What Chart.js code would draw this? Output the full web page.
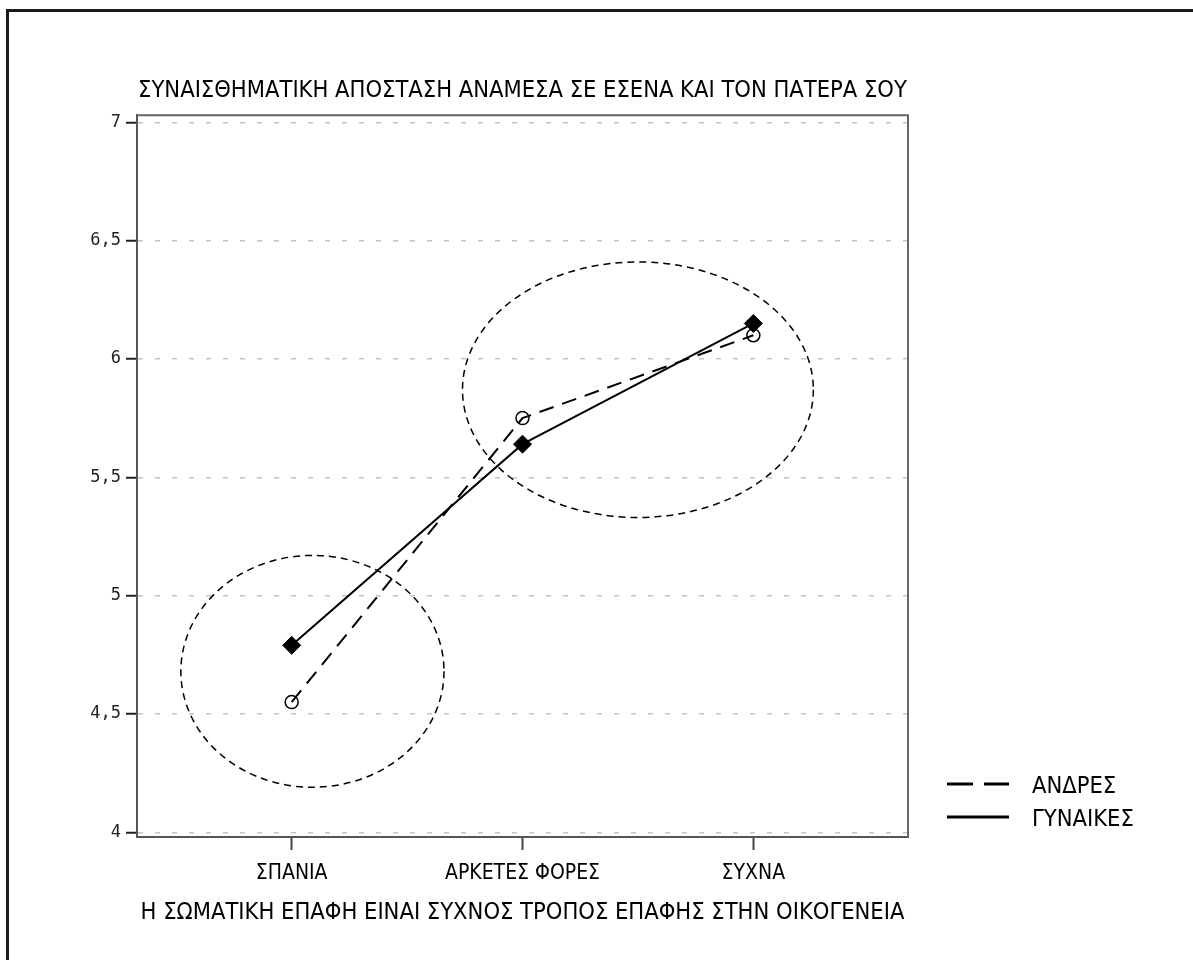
<!DOCTYPE html>
<html>
<head>
<meta charset="utf-8">
<title>ΣΥΝΑΙΣΘΗΜΑΤΙΚΗ ΑΠΟΣΤΑΣΗ</title>
<script src="https://cdn.jsdelivr.net/npm/chart.js@4"></script>
<style>
  html, body { margin: 0; padding: 0; background: #fff; overflow: hidden; }
  .page { position: relative; width: 1193px; height: 960px; }
  .page__frame {
    position: absolute; left: 6px; top: 9px; width: 1300px; height: 1100px;
    border-left: 3px solid #1a1a1a; border-top: 3px solid #1a1a1a;
  }
  #myChart { position: absolute; left: 0; top: 0; }
</style>
</head>
<body>
<div class="page">
  <div class="page__frame"></div>
  <canvas id="myChart" width="1193" height="960"></canvas>
</div>
<script>
const categories = ['ΣΠΑΝΙΑ', 'ΑΡΚΕΤΕΣ ΦΟΡΕΣ', 'ΣΥΧΝΑ'];
const seriesNames = ['ΑΝΔΡΕΣ', 'ΓΥΝΑΙΚΕΣ'];
const andres = [4.55, 5.75, 6.10];
const gynaikes = [4.79, 5.64, 6.15];
const yTicks = [4, 4.5, 5, 5.5, 6, 6.5, 7];

const titleText = 'ΣΥΝΑΙΣΘΗΜΑΤΙΚΗ ΑΠΟΣΤΑΣΗ ΑΝΑΜΕΣΑ ΣΕ ΕΣΕΝΑ ΚΑΙ ΤΟΝ ΠΑΤΕΡΑ ΣΟΥ';
const xTitleText = 'Η ΣΩΜΑΤΙΚΗ ΕΠΑΦΗ ΕΙΝΑΙ ΣΥΧΝΟΣ ΤΡΟΠΟΣ ΕΠΑΦΗΣ ΣΤΗΝ ΟΙΚΟΓΕΝΕΙΑ';

// dashed rings round the groups, in axis units (centre + radii)
const rings = [
  { x: 0.09, y: 4.68, rx: 0.57, ry: 0.49 },
  { x: 1.50, y: 5.87, rx: 0.76, ry: 0.54 },
];

const sans = "'DejaVu Sans Condensed', 'DejaVu Sans', sans-serif";

const plotFrame = {
  id: 'plotFrame',
  beforeDatasetsDraw(chart) {
    const { ctx, chartArea } = chart;
    ctx.save();
    ctx.strokeStyle = '#666';
    ctx.lineWidth = 2;
    ctx.beginPath();
    ctx.moveTo(chartArea.left, chartArea.top);
    ctx.lineTo(chartArea.right, chartArea.top);
    ctx.lineTo(chartArea.right, chartArea.bottom);
    ctx.stroke();
    ctx.restore();
  },
};

const ringLines = {
  id: 'ringLines',
  afterDatasetsDraw(chart) {
    const { ctx } = chart;
    const sx = chart.scales.x;
    const sy = chart.scales.y;
    ctx.save();
    ctx.strokeStyle = '#000';
    ctx.lineWidth = 1.5;
    ctx.setLineDash([7, 5]);
    for (let r of rings) {
      const cx = sx.getPixelForValue(r.x);
      const cy = sy.getPixelForValue(r.y);
      const rx = sx.getPixelForValue(r.x + r.rx) - cx;
      const ry = cy - sy.getPixelForValue(r.y + r.ry);
      ctx.beginPath();
      ctx.ellipse(cx, cy, rx, ry, 0, 0, 2 * Math.PI);
      ctx.stroke();
    }
    ctx.restore();
  },
};

const sideLegend = {
  id: 'sideLegend',
  afterDraw(chart) {
    const { ctx, chartArea } = chart;
    chart.data.datasets.forEach((ds, i) => {
      const y = chartArea.bottom - 53 + i * 33;
      const x0 = chartArea.right + 39;
      ctx.save();
      ctx.strokeStyle = '#000';
      ctx.lineWidth = 3;
      ctx.setLineDash(ds.borderDash ? [26, 11] : []);
      ctx.beginPath();
      ctx.moveTo(x0, y);
      ctx.lineTo(x0 + 62, y);
      ctx.stroke();
      ctx.fillStyle = '#000';
      ctx.font = '23.5px ' + sans;
      ctx.textBaseline = 'middle';
      ctx.fillText(ds.label, x0 + 85, y + 3);
      ctx.restore();
    });
  },
};

const ctx = document.getElementById('myChart');

// eslint-disable-next-line no-undef
var chart = new Chart(ctx, { // eslint-disable-line no-unused-vars
  type: 'line',
  data: {
    datasets: [{
      label: seriesNames[0],
      data: andres.map((v, i) => ({ x: i, y: v })),
      borderColor: '#000',
      borderWidth: 2,
      borderDash: [15, 9],
      pointStyle: 'circle',
      pointRadius: 6.5,
      pointBorderWidth: 1.5,
      pointBorderColor: '#000',
      pointBackgroundColor: 'rgba(0,0,0,0)',
      tension: 0,
    },
    {
      label: seriesNames[1],
      data: gynaikes.map((v, i) => ({ x: i, y: v })),
      borderColor: '#000',
      borderWidth: 2,
      pointStyle: 'rectRot',
      pointRadius: 9,
      pointBorderWidth: 1,
      pointBorderColor: '#000',
      pointBackgroundColor: '#000',
      tension: 0,
    }],
  },
  options: {
    responsive: false,
    animation: false,
    layout: { padding: { left: 0, right: 285, top: 0, bottom: 0 } },
    plugins: {
      legend: { display: false },
      tooltip: { enabled: false },
      title: {
        display: true,
        text: titleText,
        fullSize: false,
        color: '#000',
        font: { family: sans, size: 23.5, weight: 'normal' },
        padding: { top: 77, bottom: 10 },
      },
    },
    scales: {
      x: {
        type: 'linear',
        min: -0.67,
        max: 2.67,
        afterBuildTicks: (scale) => {
          scale.ticks = categories.map((c, i) => ({ value: i }));
        },
        afterFit: (scale) => { scale.height = 123; },
        ticks: {
          callback: (v) => categories[v],
          color: '#000',
          font: { family: sans, size: 21 },
          padding: 11,
          maxRotation: 0,
          autoSkip: false,
        },
        grid: { drawOnChartArea: false, tickLength: 13, tickColor: '#444', tickWidth: 2 },
        border: { color: '#555', width: 2 },
        title: {
          display: true,
          text: xTitleText,
          color: '#000',
          font: { family: sans, size: 23.5 },
          padding: { top: 33, bottom: 33 },
        },
      },
      y: {
        min: 3.98,
        max: 7.03,
        afterBuildTicks: (scale) => {
          scale.ticks = yTicks.map((v) => ({ value: v }));
        },
        afterFit: (scale) => { scale.width = 137; },
        ticks: {
          callback: (v) => String(v).replace('.', ','),
          color: '#222',
          font: { family: "'DejaVu Sans Mono', monospace", size: 17 },
          padding: 5,
        },
        grid: { color: '#c4c4c4', lineWidth: 1.5, tickLength: 11, tickColor: '#222', tickWidth: 2 },
        border: { color: '#555', width: 2, dash: [5, 12] },
      },
    },
  },
  plugins: [plotFrame, ringLines, sideLegend],
});
</script>
</body>
</html>
